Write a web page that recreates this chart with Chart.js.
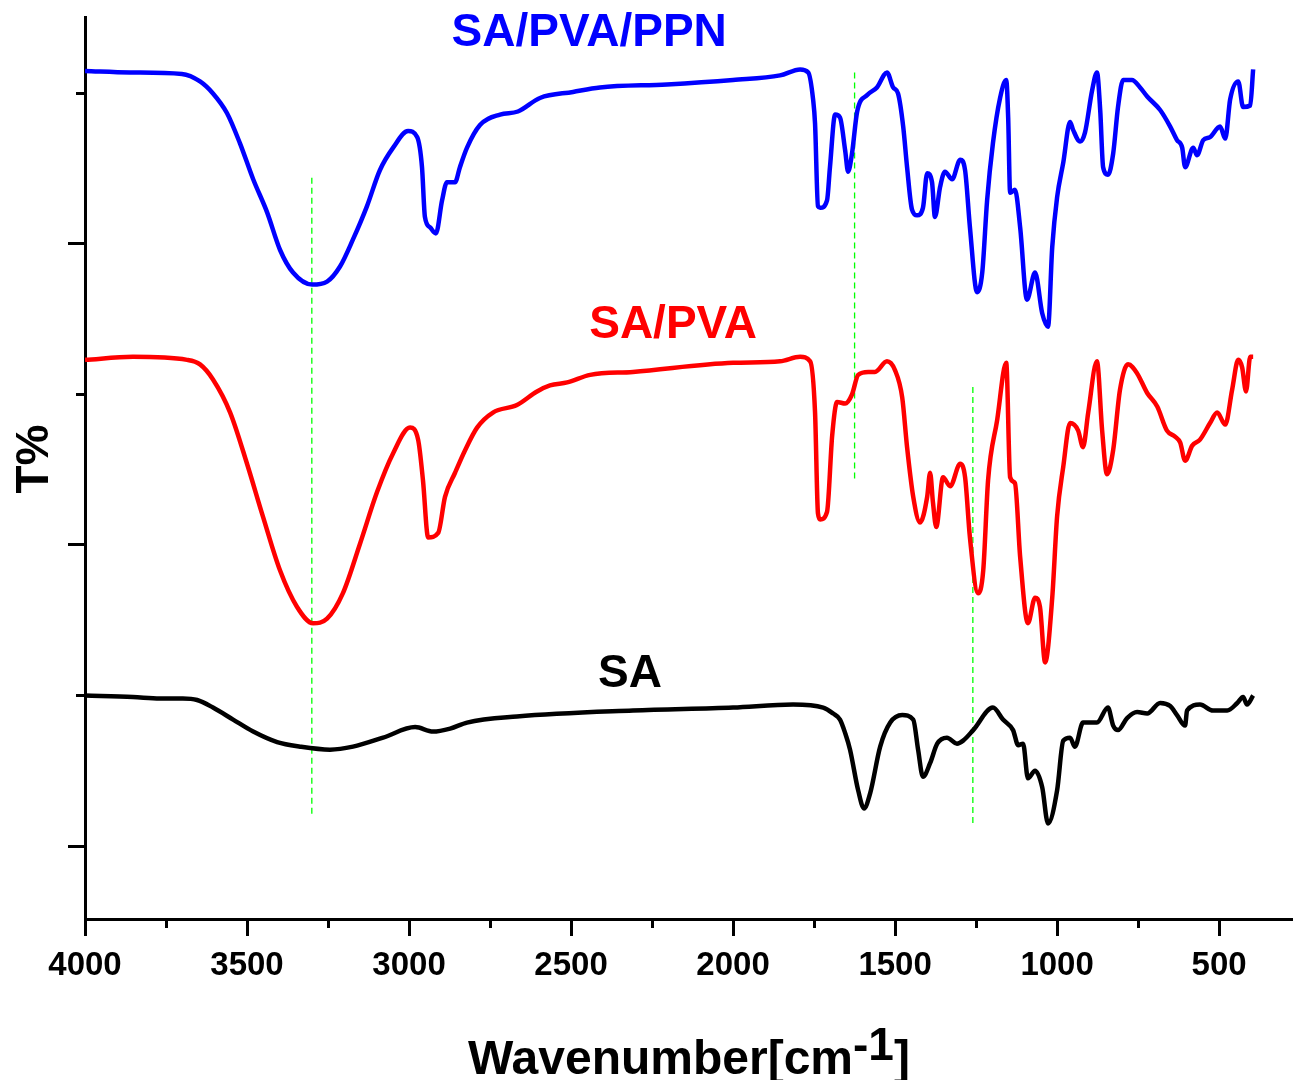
<!DOCTYPE html>
<html>
<head>
<meta charset="utf-8">
<script src="https://cdn.jsdelivr.net/npm/chart.js@4"></script>
<style>
  html, body { margin: 0; padding: 0; background: #fff; }
  #chart { display: block; }
</style>
</head>
<body>
<canvas id="chart" width="1293" height="1080"></canvas>
<script>
// SA/PVA/PPN (blue)
const ppnWave = [4000,3861,3701,3645,3605,3562,3522,3481,3438,3398,3358,3299,3253,3213,3173,3130,3090,3049,3003,2975,2960,2951,2935,2917,2898,2883,2858,2843,2821,2781,2719,2664,2596,2494,2411,2204,2000,1855,1793,1768,1753,1747,1738,1731,1710,1701,1685,1670,1654,1645,1633,1617,1586,1556,1525,1506,1491,1475,1463,1448,1432,1414,1401,1386,1377,1361,1346,1324,1299,1284,1269,1247,1231,1216,1198,1176,1157,1151,1145,1130,1114,1093,1068,1046,1028,1015,1000,981,960,951,929,914,892,877,867,858,843,827,812,796,769,744,722,682,651,630,614,605,580,568,549,528,497,481,466,441,426,404,395];
const ppnT = [51.5,51.4,51.3,50.8,50.0,48.7,46.7,44.3,42.1,39.6,38.1,37.3,37.5,38.5,40.3,42.5,44.9,46.4,47.5,47.1,45.1,41.8,41.1,40.7,42.9,44.1,44.1,45.1,46.4,47.9,48.6,48.8,49.7,50.1,50.4,50.6,50.9,51.2,51.6,51.4,49.6,48.0,42.5,42.4,42.9,45.1,48.6,48.4,46.2,44.8,46.0,48.8,49.9,50.4,51.4,50.4,50.0,47.8,45.1,42.3,41.9,42.4,44.7,44.1,41.8,43.8,44.8,44.3,45.6,44.9,41.1,36.8,38.1,42.9,46.7,49.7,50.9,48.4,43.4,43.6,41.1,36.3,38.1,35.4,34.5,39.8,43.1,45.4,48.1,47.6,46.8,47.4,50.2,51.4,48.9,45.1,44.6,46.0,49.1,50.9,50.9,50.4,49.8,48.9,47.8,46.9,46.4,45.1,46.4,45.9,46.9,47.1,47.8,47.0,49.6,50.8,49.1,49.2,51.6];

// SA/PVA (red)
const pvaWave = [4000,3852,3685,3645,3605,3552,3500,3451,3398,3346,3296,3253,3204,3151,3099,3049,2997,2972,2957,2941,2910,2889,2858,2827,2790,2741,2667,2605,2565,2512,2441,2309,2000,1855,1793,1762,1747,1738,1731,1710,1694,1679,1654,1633,1614,1583,1562,1525,1500,1478,1463,1444,1423,1401,1392,1383,1373,1352,1330,1299,1284,1269,1244,1228,1213,1185,1157,1145,1130,1114,1090,1068,1053,1037,1015,1000,981,960,935,920,904,877,861,846,827,806,781,753,722,691,661,636,620,605,583,559,528,506,481,460,441,429,417,404,395];
const pvaT = [32.3,32.5,32.3,32.0,31.0,28.8,25.4,21.9,18.3,15.9,14.8,15.1,16.8,20.1,23.5,26.1,27.8,27.0,24.3,20.5,20.8,23.2,24.8,26.3,27.8,28.8,29.3,30.2,30.6,30.8,31.3,31.5,32.1,32.2,32.5,32.2,28.8,22.1,21.7,22.2,27.3,29.5,29.4,30.0,31.3,31.5,31.5,32.2,31.6,29.8,26.5,23.2,21.5,23.2,24.8,22.8,21.2,24.5,23.9,25.4,24.5,20.5,16.8,18.3,24.3,28.3,32.1,24.5,24.1,19.2,14.8,16.5,15.9,12.2,16.5,21.9,25.2,28.1,27.6,26.5,28.8,32.2,27.6,24.7,26.3,30.3,32.0,31.4,30.1,29.2,27.6,27.2,26.8,25.6,26.6,27.0,28.1,28.8,28.0,30.3,32.3,31.8,30.2,32.5,32.5];

// SA (black)
const saWave = [4000,3852,3769,3698,3654,3605,3543,3481,3407,3336,3244,3173,3080,2981,2926,2873,2821,2667,2309,2000,1815,1722,1691,1670,1654,1639,1614,1596,1577,1546,1515,1478,1444,1429,1414,1392,1370,1340,1309,1290,1259,1198,1167,1136,1120,1105,1090,1068,1046,1028,1000,981,960,945,920,877,843,827,812,784,753,722,682,651,630,605,599,559,519,475,444,426,414,395];
const saT = [10.0,9.9,9.8,9.8,9.7,9.2,8.4,7.6,6.9,6.6,6.4,6.6,7.2,7.9,7.6,7.8,8.2,8.6,9.0,9.2,9.4,9.2,8.8,8.4,7.5,6.4,3.7,2.5,3.5,6.6,8.2,8.7,8.4,6.4,4.6,5.5,6.8,7.2,6.8,7.0,7.7,9.2,8.4,7.7,6.7,6.8,4.5,5.0,3.9,1.5,3.7,7.0,7.2,6.6,8.2,8.2,9.2,8.0,7.7,8.5,8.9,8.8,9.5,9.3,8.7,8.0,9.0,9.4,9.0,9.0,9.5,9.9,9.4,10.0];

// dashed guide lines at the main bands
const peakWave = [3300, 1625, 1260];
const peakTop = [44.4, 51.4, 30.5];
const peakBottom = [1.9, 24.2, 1.5];

const seriesNames = ['SA/PVA/PPN', 'SA/PVA', 'SA'];
const xTicks = [4000, 3500, 3000, 2500, 2000, 1500, 1000, 500];
const xMinorTicks = [3750, 3250, 2750, 2250, 1750, 1250, 750];
const yTicks = [0, 20, 40];
const yMinorTicks = [10, 30, 50];

const FONT = '"Liberation Sans", Arial, sans-serif';

function pts(xs, ys) {
    const n = Math.min(xs.length, ys.length);
    const out = [];
    for (let i = 0; i < n; i++) out.push({ x: xs[i], y: ys[i] });
    return out;
}

function spectrum(label, xs, ys, color) {
    return {
        label: label,
        data: pts(xs, ys),
        borderColor: color,
        borderWidth: 4.5,
        pointRadius: 0,
        cubicInterpolationMode: 'monotone',
        fill: false
    };
}

const guides = peakWave.map((w, i) => ({
    label: 'guide' + i,
    data: [{ x: w, y: peakTop[i] }, { x: w, y: peakBottom[i] }],
    borderColor: '#00ff00',
    borderWidth: 1.3,
    borderDash: [6, 4],
    pointRadius: 0,
    fill: false
}));

// text on the plot, minor ticks, axis titles
const decorations = {
    id: 'decorations',
    afterDraw(chart) {
        const ctx = chart.ctx;
        const x = chart.scales.x, y = chart.scales.y;
        ctx.save();
        ctx.strokeStyle = '#000';
        ctx.lineWidth = 3;
        xMinorTicks.forEach(v => {
            const px = Math.round(x.getPixelForValue(v)) + 0.5;
            ctx.beginPath();
            ctx.moveTo(px, y.bottom);
            ctx.lineTo(px, y.bottom + 9);
            ctx.stroke();
        });
        yMinorTicks.forEach(v => {
            const py = Math.round(y.getPixelForValue(v)) + 0.5;
            ctx.beginPath();
            ctx.moveTo(x.left, py);
            ctx.lineTo(x.left - 9, py);
            ctx.stroke();
        });

        // series names
        const anchors = [
            { w: 2444, t: 54.0, color: '#0000ff' },
            { w: 2185, t: 34.6, color: '#ff0000' },
            { w: 2318, t: 11.4, color: '#000000' }
        ];
        ctx.font = 'bold 46px ' + FONT;
        ctx.textAlign = 'center';
        ctx.textBaseline = 'middle';
        seriesNames.forEach((name, i) => {
            ctx.fillStyle = anchors[i].color;
            ctx.fillText(name, x.getPixelForValue(anchors[i].w), y.getPixelForValue(anchors[i].t));
        });

        // y title
        ctx.fillStyle = '#000';
        ctx.save();
        ctx.translate(35, (y.top + y.bottom) / 2 - 9);
        ctx.rotate(-Math.PI / 2);
        ctx.fillText('T%', 0, 0);
        ctx.restore();

        // x title with superscript
        const base = 'Wavenumber[cm', sup = '-1', end = ']';
        ctx.textAlign = 'left';
        ctx.textBaseline = 'alphabetic';
        ctx.font = 'bold 48px ' + FONT;
        const wBase = ctx.measureText(base).width;
        const wEnd = ctx.measureText(end).width;
        ctx.font = 'bold 46px ' + FONT;
        const wSup = ctx.measureText(sup).width;
        const total = wBase + wSup + wEnd;
        let cx = (x.left + x.right) / 2 - total / 2;
        const baseY = 1074;
        ctx.font = 'bold 48px ' + FONT;
        ctx.fillText(base, cx, baseY);
        cx += wBase;
        ctx.font = 'bold 46px ' + FONT;
        ctx.fillText(sup, cx, baseY - 14);
        cx += wSup;
        ctx.font = 'bold 48px ' + FONT;
        ctx.fillText(end, cx, baseY);
        ctx.restore();
    }
};

const ctx = document.getElementById('chart').getContext('2d');

const chart = new Chart(ctx, {
    type: 'line',
    data: {
        datasets: [
            spectrum(seriesNames[0], ppnWave, ppnT, '#0000ff'),
            spectrum(seriesNames[1], pvaWave, pvaT, '#ff0000'),
            spectrum(seriesNames[2], saWave, saT, '#000000'),
            ...guides
        ]
    },
    options: {
        responsive: false,
        animation: false,
        devicePixelRatio: 1,
        layout: { padding: { top: 17, right: 0, left: 0, bottom: 0 } },
        plugins: {
            legend: { display: false },
            tooltip: { enabled: false }
        },
        scales: {
            x: {
                type: 'linear',
                reverse: true,
                min: 272,
                max: 4000,
                afterBuildTicks: (scale) => { scale.ticks = xTicks.map(v => ({ value: v })); },
                afterFit: (scale) => { scale.height = 161; },
                border: { display: true, color: '#000', width: 3 },
                grid: {
                    drawOnChartArea: false,
                    drawTicks: true,
                    tickLength: 17,
                    tickWidth: 3,
                    tickColor: '#000'
                },
                ticks: {
                    maxRotation: 0,
                    autoSkip: false,
                    padding: 10,
                    color: '#000',
                    font: { family: FONT, size: 33, weight: 'bold' },
                    callback: (v) => String(v)
                }
            },
            y: {
                type: 'linear',
                min: -4.85,
                max: 55.08,
                afterBuildTicks: (scale) => { scale.ticks = yTicks.map(v => ({ value: v })); },
                afterFit: (scale) => { scale.width = 85; },
                border: { display: true, color: '#000', width: 3 },
                grid: {
                    drawOnChartArea: false,
                    drawTicks: true,
                    tickLength: 17,
                    tickWidth: 3,
                    tickColor: '#000'
                },
                ticks: { display: false }
            }
        }
    },
    plugins: [decorations]
});
</script>
</body>
</html>
